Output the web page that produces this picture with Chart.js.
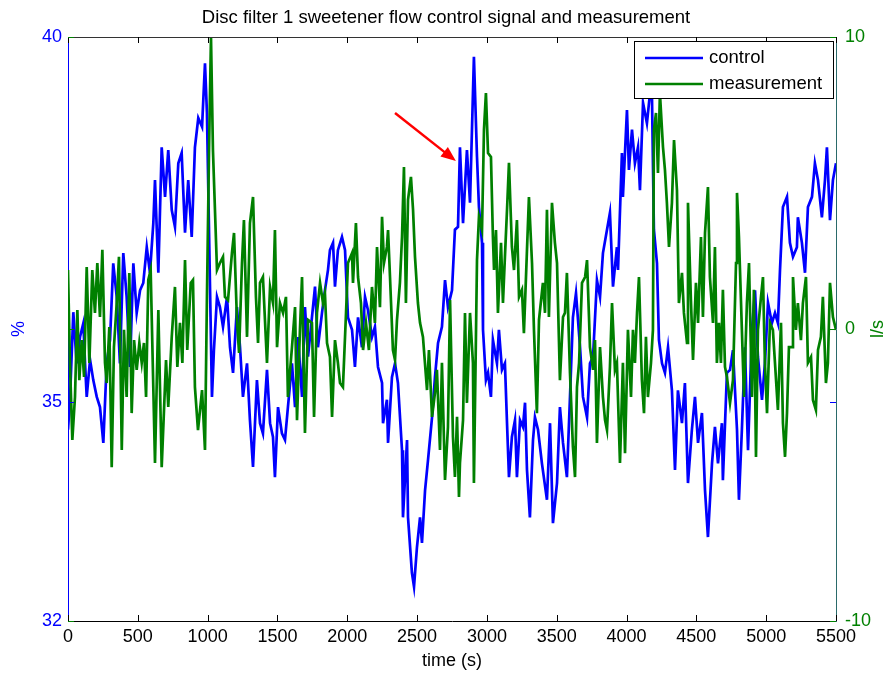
<!DOCTYPE html>
<html>
<head>
<meta charset="utf-8">
<script src="https://cdn.jsdelivr.net/npm/chart.js@4.4.1/dist/chart.umd.min.js"></script>
<style>
  body { margin: 0; background: #fff; }
  canvas { display: block; }
</style>
</head>
<body>
<canvas id="myChart" width="892" height="673"></canvas>
<script>
// control signal (%)
const ctrlTime = [0,14,38,62,86,110,122,134,158,181,206,229,253,277,301,324,349,372,396,420,444,468,492,516,539,564,587,611,623,647,671,695,718,743,766,790,814,838,861,886,909,933,960,981,995,1031,1045,1067,1088,1110,1139,1160,1182,1210,1232,1253,1282,1303,1325,1353,1375,1396,1425,1447,1468,1482,1504,1532,1554,1575,1604,1626,1647,1676,1697,1719,1747,1769,1790,1819,1840,1862,1876,1898,1912,1933,1962,1984,2005,2034,2055,2077,2105,2127,2148,2177,2198,2220,2249,2256,2284,2292,2320,2342,2363,2392,2399,2428,2435,2463,2478,2499,2521,2535,2557,2578,2607,2628,2650,2678,2700,2721,2750,2771,2793,2807,2829,2857,2879,2907,2929,2943,2965,2972,2993,3008,3029,3043,3072,3086,3108,3129,3144,3158,3179,3201,3215,3237,3258,3273,3287,3308,3330,3344,3366,3394,3430,3452,3473,3502,3523,3545,3573,3595,3616,3638,3667,3688,3717,3738,3760,3788,3810,3831,3860,3881,3903,3931,3939,3967,3974,4003,4017,4039,4060,4082,4096,4118,4146,4168,4182,4196,4218,4232,4254,4275,4297,4325,4347,4368,4397,4418,4440,4468,4490,4512,4540,4562,4583,4612,4633,4655,4683,4690,4719,4741,4762,4791,4805,4826,4848,4870,4898,4920,4941,4970,4991,5013,5041,5063,5084,5099,5120,5149,5170,5192,5220,5227,5256,5278,5299,5328,5349,5371,5399,5421,5435,5457,5478,5500];
const ctrlPct = [34.62,35.03,36.23,35.53,35.89,36.08,35.53,35.07,35.58,35.30,35.07,34.93,34.44,35.53,35.85,36.90,36.44,35.53,37.04,36.44,35.48,36.90,36.22,36.53,36.63,37.12,36.77,37.45,38.04,36.77,38.49,37.81,38.45,37.63,37.40,38.27,38.41,37.32,38.04,37.26,38.49,38.89,38.77,39.64,38.96,35.07,35.71,36.44,36.30,36.03,36.44,35.75,35.40,36.30,35.75,35.07,35.53,34.75,34.11,35.30,34.71,34.57,35.44,34.71,34.52,33.97,34.93,34.57,34.48,34.93,35.53,34.93,35.89,35.07,36.30,35.62,36.16,36.58,35.75,36.22,36.53,36.81,37.08,37.18,36.58,37.08,37.26,37.08,36.16,35.99,35.48,36.16,35.75,36.44,36.26,35.89,36.03,35.48,35.26,34.71,35.03,34.44,35.34,35.53,35.26,34.34,33.42,34.48,33.42,32.66,32.47,33.01,33.42,33.07,33.79,34.20,34.79,35.34,35.81,36.03,36.67,36.30,36.53,37.36,37.40,38.49,37.45,38.45,37.73,39.73,38.36,37.67,37.18,35.99,35.30,35.40,35.07,35.85,35.53,35.99,35.44,35.53,34.71,33.97,34.52,34.75,33.97,34.75,34.66,34.99,34.07,33.42,34.48,34.79,34.62,34.16,33.66,34.71,33.34,33.89,34.93,34.44,33.97,35.07,36.16,36.49,35.75,35.07,34.79,35.53,35.62,36.67,36.44,37.04,37.36,37.59,36.58,37.12,36.81,38.41,37.81,39.00,38.18,38.73,38.27,38.49,37.90,39.10,38.82,39.23,39.20,37.36,36.90,35.85,35.53,35.40,35.75,35.16,34.07,35.16,34.71,35.26,33.89,34.62,35.07,34.44,34.85,33.79,33.15,34.16,34.66,34.16,34.71,33.93,35.40,35.44,35.71,34.62,33.66,34.62,35.75,34.34,35.99,36.53,35.62,35.03,35.53,36.36,36.08,36.22,36.08,36.81,37.67,37.81,37.18,36.99,37.12,37.53,37.18,36.77,37.67,37.81,38.27,38.04,37.53,38.04,38.49,37.49,38.04,38.27];

const measTime = [0,14,31,50,67,81,98,115,134,153,174,193,210,229,246,265,277,296,313,329,349,365,385,401,420,439,456,473,492,511,528,544,559,575,592,623,647,671,702,718,743,766,783,802,819,838,854,879,895,909,931,960,981,995,1010,1024,1038,1067,1088,1110,1124,1146,1174,1189,1210,1225,1246,1260,1282,1303,1325,1346,1361,1375,1396,1425,1447,1468,1482,1497,1518,1540,1561,1575,1604,1626,1640,1661,1676,1697,1719,1747,1762,1783,1805,1826,1840,1855,1876,1891,1912,1933,1948,1969,1991,2005,2034,2041,2062,2077,2098,2113,2134,2155,2177,2198,2213,2234,2249,2263,2284,2292,2306,2327,2342,2356,2377,2392,2406,2420,2435,2456,2471,2485,2506,2521,2542,2571,2585,2607,2628,2642,2664,2678,2700,2721,2736,2757,2771,2786,2800,2807,2829,2843,2857,2879,2900,2907,2929,2943,2965,2979,2993,3008,3029,3043,3051,3065,3079,3101,3115,3129,3144,3158,3179,3194,3215,3230,3251,3265,3287,3301,3323,3337,3358,3373,3401,3416,3430,3444,3466,3487,3502,3523,3545,3559,3573,3595,3616,3631,3645,3660,3681,3703,3717,3731,3738,3760,3774,3788,3810,3831,3846,3860,3881,3896,3917,3931,3953,3974,3989,4010,4032,4046,4060,4075,4089,4110,4125,4139,4153,4175,4189,4196,4211,4225,4239,4261,4275,4289,4304,4325,4340,4361,4375,4397,4411,4433,4440,4461,4476,4497,4512,4533,4547,4562,4583,4597,4619,4633,4647,4662,4676,4690,4705,4719,4741,4762,4784,4791,4805,4826,4841,4862,4877,4898,4912,4927,4941,4963,4977,4991,5006,5027,5048,5063,5084,5106,5120,5135,5149,5163,5185,5192,5213,5227,5249,5263,5285,5299,5321,5335,5356,5371,5392,5406,5428,5442,5457,5478,5500];
const measFlow = [2.02,-1.16,-3.80,-2.33,0.65,-1.75,-0.38,-1.64,2.12,-1.16,2.02,0.55,2.26,0.41,2.71,-1.16,-1.85,0.07,-4.73,-0.62,0.89,2.47,-4.14,-0.03,-2.33,1.92,-2.88,-0.38,-1.40,-0.48,-1.16,-0.48,-2.33,1.68,2.02,-4.59,0.65,-4.73,-1.06,-2.67,-0.27,1.44,-1.30,0.21,-1.16,2.36,-0.72,1.58,1.68,-1.99,-3.46,-2.09,-4.14,1.10,6.13,10,6.13,2.02,2.26,2.47,1.10,0.99,2.60,3.29,0.31,-0.82,2.26,3.73,-0.27,3.63,4.52,1.10,-0.48,1.58,1.78,-1.16,1.44,0.89,3.39,-0.62,0.89,0.55,1.10,-2.33,-0.62,0.75,-3.12,-0.03,1.78,-3.56,0.31,0.21,-3.01,0.55,1.58,0.89,1.23,-0.48,-0.96,-3.01,-0.38,-1.16,-1.85,-1.99,0.55,2.26,2.60,1.58,3.63,1.78,0.89,-0.72,0.21,-0.72,1.44,0.21,2.81,0.75,3.84,2.26,2.81,3.39,1.78,-0.72,-1.06,0.31,1.58,3.15,5.55,0.89,4.42,5.21,4.08,2.47,0.89,0.21,-0.27,-2.09,-0.72,-3.01,-2.19,-1.40,-4.14,-1.16,-5.17,-3.36,0.99,-3.70,-5.07,-3.01,-5.75,-4.59,-3.12,0.55,-2.53,0.55,-1.16,-5.27,2.36,3.84,3.39,6.82,8.08,6.03,5.89,3.15,2.02,3.39,0.55,2.95,0.89,2.47,4.08,5.69,2.81,2.02,3.73,1.10,1.34,-0.14,2.71,4.52,2.26,-0.03,-2.88,0.31,1.58,0.55,4.08,0.41,4.32,2.95,2.26,-1.75,0.41,0.55,1.92,-1.51,-4.04,-5.07,-1.99,-1.16,1.58,1.78,2.36,0.41,-0.62,-1.40,-0.38,-3.90,-0.62,-2.33,-3.12,-3.46,-1.30,0.89,-1.40,-1.16,-4.59,-1.16,-4.25,-0.03,-2.33,-0.03,-1.16,0.55,1.78,-1.75,-2.88,-0.27,-2.33,-1.16,-0.03,6.82,7.40,5.34,8.08,6.23,5.45,4.32,2.81,4.32,6.47,4.76,0.89,1.92,0.55,-0.48,4.32,0.99,-1.06,1.58,0.21,3.15,0.41,3.29,4.86,1.78,0.21,2.81,-1.16,0.21,-1.16,1.34,-1.30,-1.64,-2.53,-1.75,2.26,4.66,3.15,-0.03,-2.33,0.89,2.26,-2.33,1.34,-4.38,-0.03,1.10,1.78,-1.16,-2.88,0.21,-0.03,-1.16,-2.77,0.21,-3.22,-4.38,-2.88,-0.62,-0.62,1.78,-0.03,0.89,-0.38,0.89,1.78,-1.16,-0.96,-2.43,-2.77,-0.72,-0.27,1.10,-1.85,-1.16,1.58,0.41,-0.03];

const xTicks = [0,500,1000,1500,2000,2500,3000,3500,4000,4500,5000,5500];
const leftTicks = [32, 35, 40];
const rightTicks = [-10, 0, 10];
const seriesNames = ['control', 'measurement'];
// red arrow: tail and tip in (time, %) units
const arrowTail = [2342, 38.96];
const arrowTip = [2778, 38.30];

const FONT = 'Liberation Sans, Arial, sans-serif';
const BLUE = '#0000ff', GREEN = '#008000';

const toPts = (xs, ys) => xs.map((t, i) => ({ x: t, y: ys[i] }));

const framePlugin = {
    id: 'frame',
    afterDatasetsDraw(chart) {
        const { ctx, chartArea: a, scales: { x, yL, yR } } = chart;
        ctx.save();
        ctx.lineWidth = 1;
        // top edge
        ctx.strokeStyle = '#333';
        ctx.beginPath(); ctx.moveTo(a.left, a.top + 0.5); ctx.lineTo(a.right, a.top + 0.5); ctx.stroke();
        // inward tick marks
        const tl = 6;
        ctx.strokeStyle = '#000';
        xTicks.forEach(v => {
            const px = Math.round(x.getPixelForValue(v)) + 0.5;
            ctx.beginPath();
            ctx.moveTo(px, a.bottom); ctx.lineTo(px, a.bottom - tl);
            ctx.moveTo(px, a.top); ctx.lineTo(px, a.top + tl);
            ctx.stroke();
        });
        ctx.strokeStyle = BLUE;
        leftTicks.forEach(v => {
            const py = Math.round(yL.getPixelForValue(v)) + 0.5;
            ctx.beginPath();
            ctx.moveTo(a.left, py); ctx.lineTo(a.left + tl, py);
            ctx.moveTo(a.right, py); ctx.lineTo(a.right - tl, py);
            ctx.stroke();
        });
        ctx.strokeStyle = GREEN;
        rightTicks.forEach(v => {
            const py = Math.round(yR.getPixelForValue(v)) + 0.5;
            ctx.beginPath();
            ctx.moveTo(a.left, py); ctx.lineTo(a.left + tl, py);
            ctx.moveTo(a.right, py); ctx.lineTo(a.right - tl, py);
            ctx.stroke();
        });

        // arrow annotation
        const x0 = x.getPixelForValue(arrowTail[0]), y0 = yL.getPixelForValue(arrowTail[1]);
        const x1 = x.getPixelForValue(arrowTip[0]), y1 = yL.getPixelForValue(arrowTip[1]);
        const ang = Math.atan2(y1 - y0, x1 - x0);
        ctx.strokeStyle = '#ff0000'; ctx.fillStyle = '#ff0000'; ctx.lineWidth = 2.5;
        ctx.beginPath(); ctx.moveTo(x0, y0);
        ctx.lineTo(x1 - 10 * Math.cos(ang), y1 - 10 * Math.sin(ang)); ctx.stroke();
        ctx.beginPath();
        ctx.moveTo(x1, y1);
        ctx.lineTo(x1 - 15 * Math.cos(ang) + 6 * Math.sin(ang), y1 - 15 * Math.sin(ang) - 6 * Math.cos(ang));
        ctx.lineTo(x1 - 15 * Math.cos(ang) - 6 * Math.sin(ang), y1 - 15 * Math.sin(ang) + 6 * Math.cos(ang));
        ctx.closePath(); ctx.fill();

        // legend box (top right, inside plot)
        const bx = a.right - 202, by = a.top + 4, bw = 199, bh = 57;
        ctx.fillStyle = '#fff';
        ctx.fillRect(bx, by, bw, bh);
        ctx.strokeStyle = '#000'; ctx.lineWidth = 1;
        ctx.strokeRect(bx + 0.5, by + 0.5, bw, bh);
        ctx.font = '18.5px ' + FONT;
        ctx.textBaseline = 'middle';
        [BLUE, GREEN].forEach((c, i) => {
            const ly = by + 17 + i * 26;
            ctx.strokeStyle = c; ctx.lineWidth = 2.7;
            ctx.beginPath(); ctx.moveTo(bx + 11, ly); ctx.lineTo(bx + 69, ly); ctx.stroke();
            ctx.fillStyle = '#000';
            ctx.fillText(seriesNames[i], bx + 75, ly);
        });

        // right axis label, reading bottom to top like the left one
        ctx.save();
        ctx.translate(878, (a.top + a.bottom) / 2);
        ctx.rotate(-Math.PI / 2);
        ctx.fillStyle = GREEN;
        ctx.textAlign = 'center';
        ctx.font = '18px ' + FONT;
        ctx.fillText('l/s', 0, 0);
        ctx.restore();

        ctx.restore();
    }
};

const tickFont = { family: FONT, size: 18 };

new Chart(document.getElementById('myChart'), {
    type: 'line',
    data: {
        datasets: [
            { label: seriesNames[0], data: toPts(ctrlTime, ctrlPct), yAxisID: 'yL',
              borderColor: BLUE, borderWidth: 2.7, pointRadius: 0, tension: 0, order: 2 },
            { label: seriesNames[1], data: toPts(measTime, measFlow), yAxisID: 'yR',
              borderColor: GREEN, borderWidth: 2.7, pointRadius: 0, tension: 0, order: 1 }
        ]
    },
    options: {
        responsive: false, animation: false, devicePixelRatio: 1,
        layout: { padding: 0 },
        plugins: {
            legend: { display: false },
            tooltip: { enabled: false },
            title: { display: true, text: 'Disc filter 1 sweetener flow control signal and measurement',
                     color: '#000', font: { family: FONT, size: 18.5, weight: 'normal' },
                     padding: { top: 7, bottom: 7.8 } }
        },
        scales: {
            x: {
                type: 'linear', position: 'bottom', min: 0, max: 5500,
                afterBuildTicks: s => { s.ticks = xTicks.map(v => ({ value: v })); },
                ticks: { color: '#000', font: tickFont, padding: 5, maxRotation: 0, autoSkip: false, callback: v => String(v) },
                grid: { drawOnChartArea: false, drawTicks: false },
                border: { color: '#000', width: 1 },
                title: { display: true, text: 'time (s)', color: '#000', font: tickFont, padding: { top: 0, bottom: 1 } },
                afterFit: s => { s.height = 52; }
            },
            yL: {
                position: 'left', min: 32, max: 40,
                afterBuildTicks: s => { s.ticks = leftTicks.map(v => ({ value: v })); },
                ticks: { color: BLUE, font: tickFont, padding: 6, callback: v => String(v) },
                grid: { drawOnChartArea: false, drawTicks: false },
                border: { color: BLUE, width: 1 },
                title: { display: true, text: '%', color: BLUE, font: tickFont, padding: { top: 8, bottom: 0 } },
                afterFit: s => { s.width = 68; }
            },
            yR: {
                position: 'right', min: -10, max: 10,
                afterBuildTicks: s => { s.ticks = rightTicks.map(v => ({ value: v })); },
                ticks: { color: GREEN, font: tickFont, padding: 9, callback: v => String(v) },
                grid: { drawOnChartArea: false, drawTicks: false },
                border: { color: '#2a6a6a', width: 1 },
                afterFit: s => { s.width = 56; }
            }
        }
    },
    plugins: [framePlugin]
});
</script>
</body>
</html>
